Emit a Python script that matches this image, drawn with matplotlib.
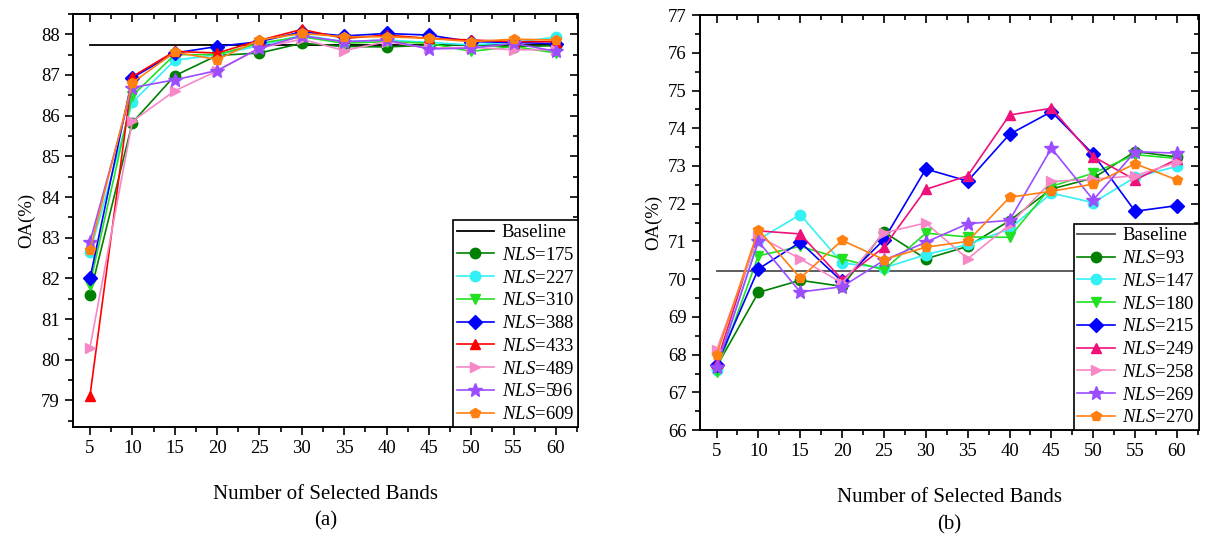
import numpy as np
import matplotlib.pyplot as plt
from matplotlib.ticker import MultipleLocator

plt.rcParams['font.family'] = ['Liberation Serif', 'DejaVu Serif']
plt.rcParams['mathtext.fontset'] = 'custom'
plt.rcParams['mathtext.it'] = 'Liberation Serif:italic'

bands = [5, 10, 15, 20, 25, 30, 35, 40, 45, 50, 55, 60]

# (a)
baseline_a = 87.73
nls_a = ['175', '227', '310', '388', '433', '489', '596', '609']
oa_a_175 = [81.60, 85.83, 86.98, 87.48, 87.54, 87.78, 87.70, 87.69, 87.73, 87.74, 87.70, 87.72]
oa_a_227 = [82.64, 86.33, 87.36, 87.50, 87.72, 87.98, 87.82, 87.86, 87.80, 87.74, 87.80, 87.93]
oa_a_310 = [81.85, 86.49, 87.50, 87.50, 87.78, 87.94, 87.78, 87.82, 87.78, 87.58, 87.70, 87.54]
oa_a_388 = [82.00, 86.93, 87.54, 87.70, 87.82, 88.06, 87.96, 88.02, 87.98, 87.82, 87.80, 87.77]
oa_a_433 = [79.11, 86.96, 87.58, 87.54, 87.85, 88.12, 87.90, 87.98, 87.90, 87.86, 87.82, 87.82]
oa_a_489 = [80.30, 85.86, 86.61, 87.10, 87.66, 87.88, 87.60, 87.82, 87.66, 87.68, 87.62, 87.62]
oa_a_596 = [82.90, 86.69, 86.88, 87.11, 87.66, 87.96, 87.82, 87.86, 87.64, 87.66, 87.78, 87.58]
oa_a_609 = [82.70, 86.81, 87.56, 87.38, 87.86, 88.02, 87.94, 87.94, 87.90, 87.82, 87.88, 87.86]

# (b)
baseline_b = 70.23
nls_b = ['93', '147', '180', '215', '249', '258', '269', '270']
oa_b_93 = [67.68, 69.65, 69.97, 69.81, 71.25, 70.54, 70.87, 71.55, 72.39, 72.68, 73.38, 73.24]
oa_b_147 = [67.60, 71.05, 71.71, 70.43, 70.30, 70.65, 70.92, 71.33, 72.28, 72.03, 72.70, 72.99]
oa_b_180 = [67.55, 70.62, 70.87, 70.54, 70.25, 71.22, 71.12, 71.11, 72.46, 72.81, 73.30, 73.20]
oa_b_215 = [67.72, 70.27, 70.98, 69.94, 71.05, 72.92, 72.60, 73.84, 74.44, 73.31, 71.80, 71.95]
oa_b_249 = [67.77, 71.28, 71.20, 69.99, 70.85, 72.38, 72.74, 74.35, 74.53, 73.25, 72.63, 73.18]
oa_b_258 = [68.12, 71.14, 70.54, 69.90, 71.23, 71.49, 70.54, 71.44, 72.59, 72.65, 72.74, 73.10]
oa_b_269 = [67.66, 71.00, 69.66, 69.80, 70.50, 70.98, 71.47, 71.56, 73.47, 72.10, 73.38, 73.34]
oa_b_270 = [67.99, 71.31, 70.03, 71.03, 70.52, 70.85, 71.00, 72.17, 72.33, 72.52, 73.06, 72.63]

markers = ['o', 'o', 'v', 'D', '^', '>', '*', 'p']
colors_a = ['#008000', '#33F0F5', '#22E022', '#0000FF', '#FF0000', '#F788C8', '#9B4DFF', '#FF8010']
colors_b = ['#008000', '#33F0F5', '#22E022', '#0000FF', '#F0107A', '#F788C8', '#9B4DFF', '#FF8010']


def draw(ax, series, nls, colors, baseline, base_color, ylim, yticks, label):
    ax.plot([bands[0], bands[-1]], [baseline, baseline], color=base_color, lw=1.3, label='Baseline')
    for vals, n, c, m in zip(series, nls, colors, markers):
        ms = 10.5 if m == '*' else 7.5
        ax.plot(bands, vals, color=c, marker=m, ms=ms, lw=1.2, label=r'$\mathit{NLS}$=' + n)
    ax.set_xlim(3, 62.6)
    ax.set_ylim(*ylim)
    ax.set_xticks(bands)
    ax.set_yticks(yticks)
    ax.xaxis.set_minor_locator(MultipleLocator(2.5))
    ax.yaxis.set_minor_locator(MultipleLocator(0.5))
    ax.tick_params(which='both', direction='out', top=True, right=True, labelsize=13.5, width=1.2)
    ax.tick_params(which='major', length=6)
    ax.tick_params(which='minor', length=3.5)
    for t in ax.xaxis.get_major_ticks() + ax.xaxis.get_minor_ticks():
        t.tick2line.set_marker(3)
    for t in ax.yaxis.get_major_ticks() + ax.yaxis.get_minor_ticks():
        t.tick2line.set_marker(0)
    for s in ax.spines.values():
        s.set_linewidth(1.4)
    ax.set_xlabel('Number of Selected Bands', fontsize=15, labelpad=20)
    ax.set_ylabel('OA(%)', fontsize=13.5)
    ax.text(0.5, -0.228, label, transform=ax.transAxes, ha='center', va='center', fontsize=15)
    leg = ax.legend(loc='lower right', borderaxespad=0, fancybox=False, fontsize=13.5,
                    edgecolor='black', framealpha=1, labelspacing=0.3, handlelength=2.0,
                    handletextpad=0.4, borderpad=0.2)
    leg.get_frame().set_linewidth(1.2)


fig = plt.figure(figsize=(12.17, 5.37), dpi=100)
ax1 = fig.add_axes([0.060, 0.205, 0.415, 0.769])
ax2 = fig.add_axes([0.575, 0.199, 0.410, 0.773])

draw(ax1, [oa_a_175, oa_a_227, oa_a_310, oa_a_388, oa_a_433, oa_a_489, oa_a_596, oa_a_609],
     nls_a, colors_a, baseline_a, 'black', (78.35, 88.5), np.arange(79, 89), '(a)')
draw(ax2, [oa_b_93, oa_b_147, oa_b_180, oa_b_215, oa_b_249, oa_b_258, oa_b_269, oa_b_270],
     nls_b, colors_b, baseline_b, '#505050', (66, 77), np.arange(66, 78), '(b)')

fig.savefig('out.png', dpi=100)
